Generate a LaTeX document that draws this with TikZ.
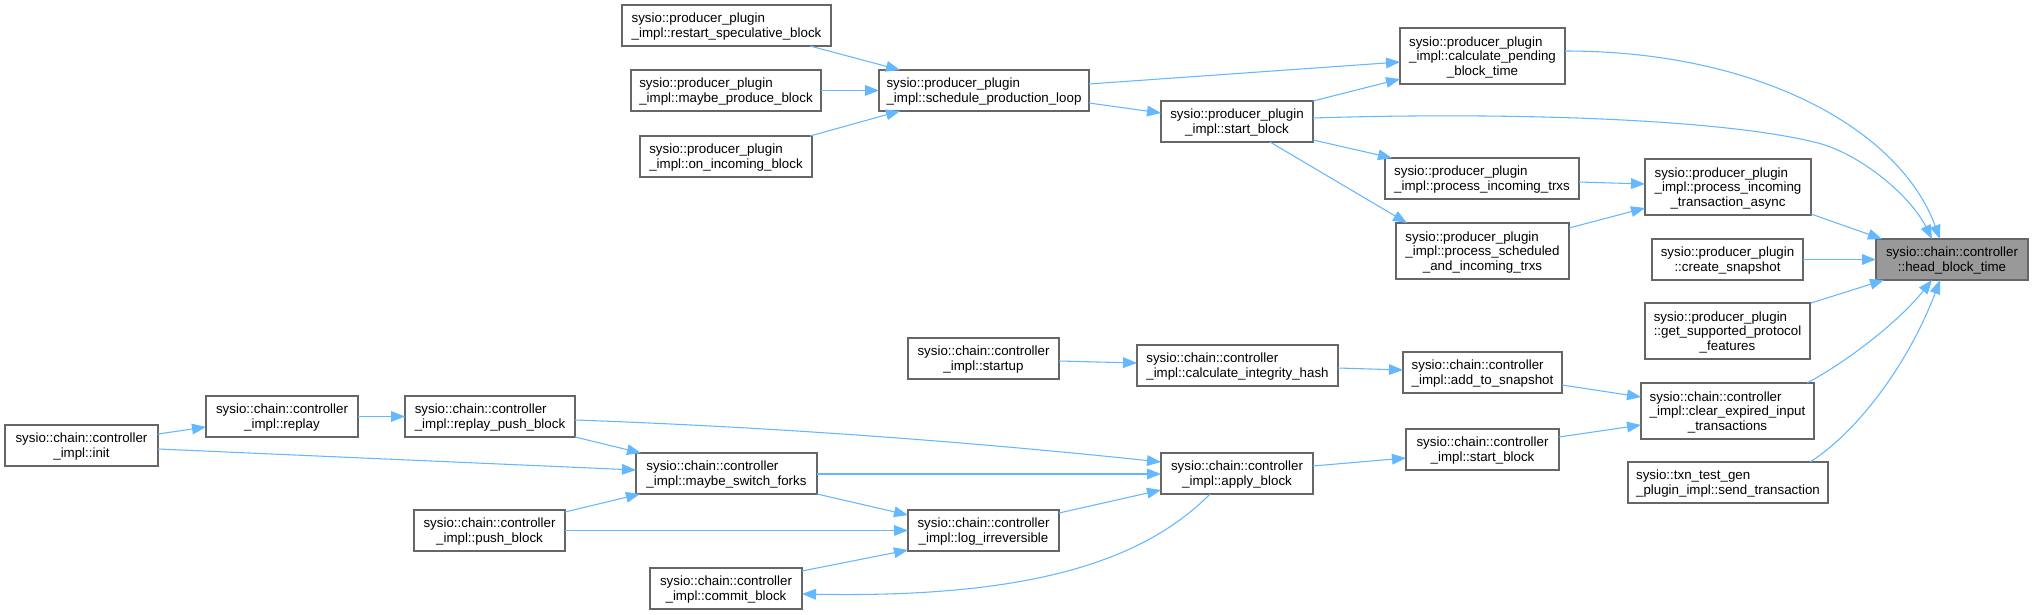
\documentclass[tikz,border=0pt]{standalone}
\usepackage{fontspec}
\setmainfont{Liberation Sans}
\usetikzlibrary{arrows.meta,calc}
\definecolor{edgec}{HTML}{63B8FF}
\definecolor{bord}{HTML}{666666}
\definecolor{headfill}{HTML}{999999}
\newcommand\Lb[2]{\begin{tabular}{@{}l@{}}\rule{0pt}{10.4pt}#1\\\multicolumn{1}{@{}c@{}}{#2}\end{tabular}}
\newcommand\Lc[3]{\begin{tabular}{@{}l@{}}\rule{0pt}{10.4pt}#1\\#2\\\multicolumn{1}{@{}c@{}}{#3}\end{tabular}}
\newcommand\mkbox[7][]{\node[box,#1,minimum width={(#4-#2)*0.75pt},minimum height={(#5-#3)*0.75pt}] (#6) at ({(#2+#4)/2},{(#3+#5)/2}) {#7};}
\tikzset{
  box/.style={draw=bord,line width=0.9pt,fill=white,rectangle,inner sep=0pt,outer sep=0pt,
    font=\fontsize{10}{10.9}\selectfont},
  headbox/.style={fill=headfill},
  edge/.style={draw=edgec,line width=0.8pt,-{Triangle[length=10.5pt,width=8pt]}}
}
\begin{document}
\begin{tikzpicture}[x=0.75pt,y=-0.75pt]
\useasboundingbox[fill=white] (0,0) rectangle (2034,614);
% producer plugin part
\mkbox{622}{5}{831}{46}{restart}{\Lb{sysio::producer\_plugin}{\_impl::restart\_speculative\_block}}
\mkbox{631}{70}{821}{111}{mprod}{\Lb{sysio::producer\_plugin}{\_impl::maybe\_produce\_block}}
\mkbox{640}{136}{812}{177}{onin}{\Lb{sysio::producer\_plugin}{\_impl::on\_incoming\_block}}
\mkbox{879}{70}{1089}{111}{sched}{\Lb{sysio::producer\_plugin}{\_impl::schedule\_production\_loop}}
\mkbox{1400}{28}{1565}{84}{calcpend}{\Lc{sysio::producer\_plugin}{\_impl::calculate\_pending}{\_block\_time}}
\mkbox{1161}{101}{1313}{142}{pstart}{\Lb{sysio::producer\_plugin}{\_impl::start\_block}}
\mkbox{1385}{158}{1579}{199}{pit}{\Lb{sysio::producer\_plugin}{\_impl::process\_incoming\_trxs}}
\mkbox{1645}{159}{1811}{215}{async}{\Lc{sysio::producer\_plugin}{\_impl::process\_incoming}{\_transaction\_async}}
\mkbox{1396}{223}{1569}{279}{psched}{\Lc{sysio::producer\_plugin}{\_impl::process\_scheduled}{\_and\_incoming\_trxs}}
\mkbox{1652}{239}{1803}{280}{snap}{\Lb{sysio::producer\_plugin}{::create\_snapshot}}
\mkbox[headbox]{1876}{239}{2028}{280}{head}{\Lb{sysio::chain::controller}{::head\_block\_time}}
\mkbox{1645}{303}{1810}{359}{feat}{\Lc{sysio::producer\_plugin}{::get\_supported\_protocol}{\_features}}
\mkbox{1641}{383}{1814}{439}{clear}{\Lc{sysio::chain::controller}{\_impl::clear\_expired\_input}{\_transactions}}
\mkbox{1628}{462}{1828}{503}{send}{\Lb{sysio::txn\_test\_gen}{\_plugin\_impl::send\_transaction}}
% chain controller part
\mkbox{908}{338}{1059}{379}{startup}{\Lb{sysio::chain::controller}{\_impl::startup}}
\mkbox{1137}{345}{1338}{386}{integ}{\Lb{sysio::chain::controller}{\_impl::calculate\_integrity\_hash}}
\mkbox{1403}{352}{1562}{393}{addsnap}{\Lb{sysio::chain::controller}{\_impl::add\_to\_snapshot}}
\mkbox{1406}{429}{1559}{470}{cstart}{\Lb{sysio::chain::controller}{\_impl::start\_block}}
\mkbox{1161}{453}{1313}{494}{apply}{\Lb{sysio::chain::controller}{\_impl::apply\_block}}
\mkbox{5}{425}{158}{466}{init}{\Lb{sysio::chain::controller}{\_impl::init}}
\mkbox{206}{396}{358}{437}{replay}{\Lb{sysio::chain::controller}{\_impl::replay}}
\mkbox{405}{396}{575}{437}{rpush}{\Lb{sysio::chain::controller}{\_impl::replay\_push\_block}}
\mkbox{636}{453}{817}{494}{msf}{\Lb{sysio::chain::controller}{\_impl::maybe\_switch\_forks}}
\mkbox{414}{510}{565}{551}{push}{\Lb{sysio::chain::controller}{\_impl::push\_block}}
\mkbox{908}{510}{1059}{551}{logirr}{\Lb{sysio::chain::controller}{\_impl::log\_irreversible}}
\mkbox{650}{568}{802}{609}{commit}{\Lb{sysio::chain::controller}{\_impl::commit\_block}}
% edges
\begin{scope}[every path/.style={edge}]
\draw ($(restart.north west)+(188,41)$) -- ($(sched.north west)+(21,0)$);
\draw (mprod.east) -- (sched.west);
\draw ($(onin.north west)+(170,0)$) -- ($(sched.north west)+(21,41)$);
\draw ($(sched.north west)+(210,14)$) -- ($(calcpend.north west)+(0,34)$);
\draw ($(sched.north west)+(210,33)$) -- ($(pstart.north west)+(0,12)$);
\draw (pstart.north east) -- ($(calcpend.north west)+(0,51)$);
\draw ($(pstart.north west)+(152,39)$) -- ($(pit.north west)+(7,0)$);
\draw ($(pstart.north west)+(109,41)$) -- ($(psched.north west)+(11,0)$);
\draw ($(pit.north west)+(194,24)$) -- ($(async.north west)+(0,25)$);
\draw ($(psched.north west)+(173,5)$) -- ($(async.north west)+(0,49)$);
\draw ($(calcpend.north west)+(165,23)$) .. controls (1760,51) and (1900,130) .. ($(head.north west)+(64,0)$);
\draw ($(pstart.north west)+(152,17)$) .. controls (1500,112) and (1720,118) .. (1818,143) .. controls (1860,154) and (1910,195) .. ($(head.north west)+(56,0)$);
\draw ($(async.north west)+(166,55)$) -- ($(head.north west)+(6,0)$);
\draw (snap.east) -- (head.west);
\draw ($(feat.north west)+(166,0)$) -- ($(head.north west)+(8,41)$);
\draw ($(clear.north west)+(166,0)$) .. controls (1850,360) and (1900,320) .. ($(head.north west)+(56,41)$);
\draw ($(send.north west)+(182,0)$) .. controls (1860,430) and (1910,360) .. ($(head.north west)+(64,41)$);
\draw ($(startup.north west)+(151,23)$) -- ($(integ.north west)+(0,18)$);
\draw ($(integ.north west)+(201,23)$) -- ($(addsnap.north west)+(0,18)$);
\draw ($(addsnap.north west)+(159,33)$) -- ($(clear.north west)+(0,14)$);
\draw ($(cstart.north west)+(153,8)$) -- ($(clear.north west)+(0,42)$);
\draw ($(apply.north west)+(152,13)$) -- ($(cstart.north west)+(0,29)$);
\draw ($(init.north west)+(153,9)$) -- ($(replay.north west)+(0,31)$);
\draw (replay.east) -- (rpush.west);
\draw ($(init.north west)+(153,24)$) -- ($(msf.north west)+(0,17)$);
\draw ($(rpush.north west)+(170,41)$) -- ($(msf.north west)+(5,0)$);
\draw ($(rpush.north west)+(170,24)$) .. controls (800,428) and (1000,445) .. ($(apply.north west)+(0,9)$);
\draw ($(msf.north west)+(181,21)$) -- ($(apply.north west)+(0,21)$);
\draw ($(push.north west)+(151,2)$) -- ($(msf.north west)+(4,41)$);
\draw (push.east) -- (logirr.west);
\draw (msf.south east) -- ($(logirr.north west)+(0,5)$);
\draw ($(commit.north west)+(152,3)$) -- ($(logirr.north west)+(0,40)$);
\draw ($(logirr.north west)+(151,3)$) -- ($(apply.north west)+(0,37)$);
\draw ($(apply.north west)+(49,41)$) .. controls (1140,565) and (1020,598) .. ($(commit.north west)+(152,26)$);
\end{scope}
\end{tikzpicture}
\end{document}
